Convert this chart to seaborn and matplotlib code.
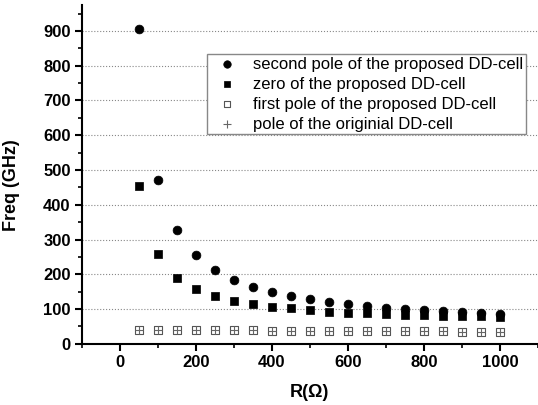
import matplotlib
matplotlib.use("Agg")
import matplotlib.pyplot as plt
import seaborn as sns
import pandas as pd
from matplotlib.ticker import MultipleLocator

R = [50, 100, 150, 200, 250, 300, 350, 400, 450, 500,
     550, 600, 650, 700, 750, 800, 850, 900, 950, 1000]
second_pole = [905, 470, 328, 256, 212, 184, 164, 149, 137, 128,
               120, 114, 109, 104, 100, 97, 95, 92, 90, 87]
zero = [455, 258, 190, 157, 137, 124, 114, 107, 102, 97,
        93, 90, 88, 85, 83, 82, 81, 80, 79, 78]
first_pole = [40, 40, 40, 39, 39, 39, 39, 38, 38, 38,
              37, 37, 37, 37, 36, 36, 36, 35, 35, 35]
orig_pole = [40, 40, 40, 39, 39, 39, 39, 38, 38, 38,
             37, 37, 37, 37, 36, 36, 36, 35, 35, 35]
labels = ["second pole of the proposed DD-cell",
          "zero of the proposed DD-cell",
          "first pole of the proposed DD-cell",
          "pole of the originial DD-cell"]

sns.set_style("white")
plt.rcParams['font.family'] = ['Liberation Sans', 'DejaVu Sans']
plt.rcParams['text.color'] = 'black'
plt.rcParams['axes.labelcolor'] = 'black'
plt.rcParams['xtick.color'] = 'black'
plt.rcParams['ytick.color'] = 'black'

fig = plt.figure(figsize=(5.38, 4.05), dpi=100)
ax = fig.add_axes([0.152, 0.151, 0.848, 0.837])

df = pd.DataFrame({"R": R, "second": second_pole, "zero": zero,
                   "first": first_pole, "orig": orig_pole})

sns.scatterplot(data=df, x="R", y="second", ax=ax, marker="o", s=40,
                color="black", edgecolor="black", linewidth=0.5, label=labels[0], zorder=3)
sns.scatterplot(data=df, x="R", y="zero", ax=ax, marker="s", s=32,
                color="black", edgecolor="black", linewidth=0.5, label=labels[1], zorder=3)
sns.scatterplot(data=df, x="R", y="first", ax=ax, marker="s", s=30,
                facecolor="white", edgecolor="#555555", linewidth=0.8, label=labels[2], zorder=3)
sns.scatterplot(data=df, x="R", y="orig", ax=ax, marker="+", s=36,
                color="#666666", linewidth=0.8, label=labels[3], zorder=4)

ax.set_xlim(-100, 1100)
ax.set_ylim(0, 975)
ax.xaxis.set_major_locator(MultipleLocator(200))
ax.xaxis.set_minor_locator(MultipleLocator(100))
ax.yaxis.set_major_locator(MultipleLocator(100))
ax.yaxis.set_minor_locator(MultipleLocator(50))
ax.tick_params(axis='both', which='major', direction='out', length=5, width=1.5,
               labelsize=12, bottom=True, left=True, pad=3, colors='black')
ax.tick_params(axis='both', which='minor', direction='out', length=3, width=1.2,
               bottom=True, left=True, colors='black')
for lab in ax.get_xticklabels() + ax.get_yticklabels():
    lab.set_fontweight('bold')

ax.grid(axis='y', which='major', linestyle=':', color='#888888', linewidth=0.8)
ax.set_axisbelow(True)
for s in ['top', 'right']:
    ax.spines[s].set_visible(False)
for s in ['left', 'bottom']:
    ax.spines[s].set_linewidth(1.5)
    ax.spines[s].set_color('black')

ax.set_xlabel("R(Ω)", fontsize=13, fontweight='bold', labelpad=10)
ax.set_ylabel("Freq (GHz)", fontsize=13, fontweight='bold')
ax.yaxis.set_label_coords(-0.136, 0.469)

leg = ax.legend(loc='upper left', bbox_to_anchor=(0.274, 0.855), frameon=True,
                fancybox=False, framealpha=1, edgecolor='#888888', fontsize=12,
                handletextpad=0.55, borderpad=0.15, labelspacing=0.3,
                handlelength=2.1, borderaxespad=0, markerscale=0.85)
leg.get_frame().set_linewidth(1.0)

fig.savefig("out.png", dpi=100, facecolor="white")
